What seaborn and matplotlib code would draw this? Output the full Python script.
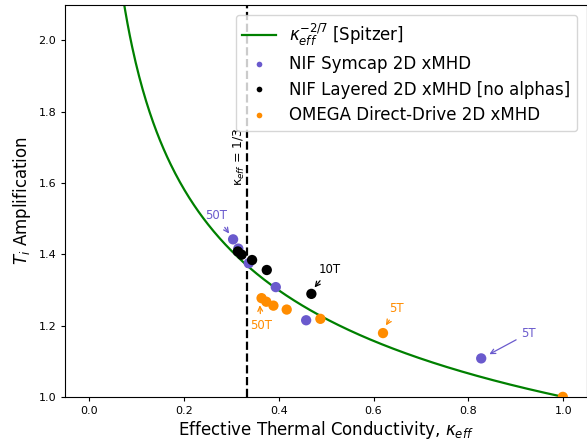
import numpy as np
import pandas as pd
import matplotlib
matplotlib.use("Agg")
import matplotlib.pyplot as plt
import seaborn as sns

# dados
symcap_k = [0.304, 0.315, 0.337, 0.394, 0.458, 0.827]
symcap_t = [1.442, 1.416, 1.375, 1.308, 1.215, 1.108]

layered_k = [0.314, 0.322, 0.344, 0.375, 0.469]
layered_t = [1.408, 1.399, 1.384, 1.356, 1.289]

omega_k = [0.364, 0.374, 0.389, 0.417, 0.488, 0.620, 0.999]
omega_t = [1.277, 1.267, 1.256, 1.245, 1.219, 1.179, 1.000]

purple = "#6A5ACD"
orange = "#FF8C00"

df = pd.concat([
    pd.DataFrame({"k": symcap_k, "t": symcap_t, "grupo": "NIF Symcap 2D xMHD"}),
    pd.DataFrame({"k": layered_k, "t": layered_t, "grupo": "NIF Layered 2D xMHD [no alphas]"}),
    pd.DataFrame({"k": omega_k, "t": omega_t, "grupo": "OMEGA Direct-Drive 2D xMHD"}),
])
paleta = {"NIF Symcap 2D xMHD": purple,
          "NIF Layered 2D xMHD [no alphas]": "black",
          "OMEGA Direct-Drive 2D xMHD": orange}

kk = np.linspace(0.02, 1.0, 400)
curva = pd.DataFrame({"k": kk, "t": kk ** (-2 / 7)})

fig = plt.figure(figsize=(5.87, 4.4), dpi=100)
ax = fig.add_axes([0.111, 0.098, 0.889, 0.891])

sns.lineplot(data=curva, x="k", y="t", color="green", lw=1.6,
             label=r"$\kappa_{eff}^{-2/7}$ [Spitzer]", ax=ax)
sns.scatterplot(data=df, x="k", y="t", hue="grupo", palette=paleta,
                s=55, edgecolor="none", zorder=3, ax=ax)
ax.axvline(1 / 3, color="black", ls="--", lw=1.6)
ax.text(0.318, 1.673, "κ$_{eff}$ = 1/3", rotation=90, fontsize=9,
        ha="center", va="center")

def seta(txt, xy, xytext, cor):
    ax.annotate(txt, xy=xy, xytext=xytext, color=cor, fontsize=8.5,
                ha="center", va="center",
                arrowprops=dict(arrowstyle="->", color=cor, lw=0.9))

seta("50T", (symcap_k[0] - 0.005, symcap_t[0] + 0.01), (0.269, 1.508), purple)
seta("50T", (omega_k[0] - 0.004, omega_t[0] - 0.012), (0.363, 1.200), orange)
seta("10T", (layered_k[4] + 0.003, layered_t[4] + 0.012), (0.507, 1.358), "black")
seta("5T", (omega_k[5] + 0.003, omega_t[5] + 0.015), (0.649, 1.248), orange)
seta("5T", (symcap_k[5] + 0.012, symcap_t[5] + 0.008), (0.927, 1.179), purple)

ax.set_xlim(-0.05, 1.05)
ax.set_ylim(1.0, 2.1)
ax.set_xlabel(r"Effective Thermal Conductivity, $\kappa_{eff}$", fontsize=12,
              labelpad=2)
ax.set_ylabel(r"$T_i$ Amplification", fontsize=12)
ax.tick_params(labelsize=8, length=3)
leg = ax.legend(loc="upper right", fontsize=12, markerscale=0.55,
                handletextpad=0.8, borderaxespad=0.6, labelspacing=0.45)

fig.savefig("out.png", dpi=100)
